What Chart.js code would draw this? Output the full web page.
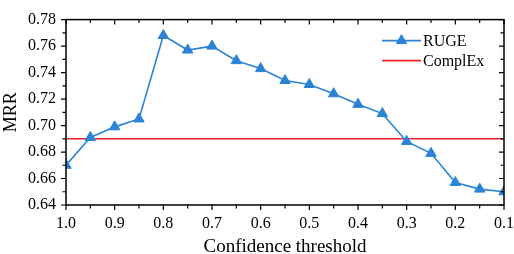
<!DOCTYPE html>
<html>
<head>
<meta charset="utf-8">
<script src="https://cdn.jsdelivr.net/npm/chart.js@4/dist/chart.umd.min.js"></script>
<style>
  html, body { margin: 0; padding: 0; background: #fff; }
  #wrap { width: 514px; height: 254px; }
</style>
</head>
<body>
<div id="wrap"><canvas id="chart"></canvas></div>
<script>
// confidence thresholds (x) and MRR values
const thresholds = [1.0, 0.95, 0.9, 0.85, 0.8, 0.75, 0.7, 0.65, 0.6, 0.55, 0.5, 0.45, 0.4, 0.35, 0.3, 0.25, 0.2, 0.15, 0.1];
const rugeMRR = [0.670, 0.691, 0.699, 0.705, 0.768, 0.757, 0.760, 0.749, 0.743, 0.734, 0.731, 0.724, 0.716, 0.709, 0.688, 0.679, 0.657, 0.652, 0.650];
const complexMRR = 0.690;
const xRange = [0.1, 1.0];
const yRange = [0.64, 0.78];
const xMajorStep = 0.1, xMinorStep = 0.05;
const yMajorStep = 0.02, yMinorStep = 0.01;

const BLUE = '#2b83d6';
const RED = '#f52222';
const FONT = "'Liberation Serif', 'Times New Roman', serif";

// frame with ticks: outward on left/bottom, inward on top/right
const frameTicks = {
  id: 'frameTicks',
  afterDatasetsDraw(chart) {
    const { ctx, chartArea: a, scales: { x, y } } = chart;
    ctx.save();
    ctx.strokeStyle = '#000';
    ctx.lineWidth = 1.5;
    ctx.strokeRect(a.left, a.top, a.right - a.left, a.bottom - a.top);
    ctx.lineWidth = 1.2;
    ctx.beginPath();
    const nx = Math.round((xRange[1] - xRange[0]) / xMinorStep);
    for (let i = 0; i <= nx; i++) {
      const v = xRange[0] + i * xMinorStep;
      const px = x.getPixelForValue(v);
      const len = i % 2 === 0 ? 5 : 3.5;
      ctx.moveTo(px, a.bottom); ctx.lineTo(px, a.bottom + len);
      ctx.moveTo(px, a.top); ctx.lineTo(px, a.top + len);
    }
    const ny = Math.round((yRange[1] - yRange[0]) / yMinorStep);
    for (let i = 0; i <= ny; i++) {
      const v = yRange[0] + i * yMinorStep;
      const py = y.getPixelForValue(v);
      const len = i % 2 === 0 ? 5 : 3.5;
      ctx.moveTo(a.left, py); ctx.lineTo(a.left - len, py);
      ctx.moveTo(a.right, py); ctx.lineTo(a.right - len, py);
    }
    ctx.stroke();
    ctx.restore();
  },
  afterDraw(chart) {
    // legend inside the plot, top right
    const { ctx, chartArea: a } = chart;
    const x0 = a.right - 122, x1 = x0 + 39;
    ctx.save();
    ctx.font = '16px ' + FONT;
    ctx.textBaseline = 'middle';
    chart.data.datasets.forEach((ds, i) => {
      const yy = a.top + 21 + i * 20;
      ctx.strokeStyle = ds.borderColor;
      ctx.lineWidth = ds.borderWidth;
      ctx.beginPath(); ctx.moveTo(x0, yy); ctx.lineTo(x1, yy); ctx.stroke();
      if (ds.pointRadius > 0) {
        ctx.fillStyle = ds.pointBackgroundColor;
        ctx.strokeStyle = ds.pointBorderColor;
        ctx.lineWidth = 1;
        Chart.helpers.drawPoint(ctx, {
          pointStyle: ds.pointStyle, radius: ds.pointRadius, borderWidth: 1
        }, (x0 + x1) / 2, yy);
      }
      ctx.fillStyle = '#000';
      ctx.fillText(ds.label, x1 + 2, yy + 1);
    });
    ctx.restore();
  }
};

new Chart(document.getElementById('chart'), {
  type: 'line',
  data: {
    datasets: [
      {
        label: 'RUGE',
        data: thresholds.map((t, i) => ({ x: t, y: rugeMRR[i] })),
        borderColor: BLUE,
        backgroundColor: BLUE,
        pointBackgroundColor: BLUE,
        pointBorderColor: BLUE,
        borderWidth: 1.6,
        pointStyle: 'triangle',
        pointRadius: 6,
        pointBorderWidth: 1,
        tension: 0,
        order: 1,
      },
      {
        label: 'ComplEx',
        data: [{ x: xRange[1], y: complexMRR }, { x: xRange[0], y: complexMRR }],
        borderColor: RED,
        backgroundColor: RED,
        borderWidth: 1.6,
        pointRadius: 0,
        order: 2,
      },
    ],
  },
  options: {
    responsive: true,
    maintainAspectRatio: false,
    animation: false,
    layout: { padding: { left: 0, right: 10, top: 7, bottom: 0 } },
    plugins: {
      legend: { display: false },
      tooltip: { enabled: false },
    },
    scales: {
      x: {
        type: 'linear',
        reverse: true,
        min: xRange[0],
        max: xRange[1],
        afterFit: (s) => { s.height = 49; },
        afterBuildTicks: (s) => {
          const t = [];
          for (let v = xRange[0]; v <= xRange[1] + 1e-9; v += xMajorStep) t.push({ value: +v.toFixed(2) });
          s.ticks = t;
        },
        grid: { display: false, drawTicks: false },
        border: { display: false },
        ticks: {
          padding: 9,
          color: '#000',
          font: { family: FONT, size: 16 },
          maxRotation: 0,
          callback: (v) => v.toFixed(1),
        },
        title: {
          display: true,
          text: 'Confidence threshold',
          color: '#000',
          font: { family: FONT, size: 19, lineHeight: 0.7 },
          padding: { top: 0, bottom: 0 },
        },
      },
      y: {
        min: yRange[0],
        max: yRange[1],
        afterFit: (s) => { s.width = 66; },
        afterBuildTicks: (s) => {
          const t = [];
          for (let v = yRange[0]; v <= yRange[1] + 1e-9; v += yMajorStep) t.push({ value: +v.toFixed(2) });
          s.ticks = t;
        },
        grid: { display: false, drawTicks: false },
        border: { display: false },
        ticks: {
          padding: 10,
          color: '#000',
          font: { family: FONT, size: 16 },
          callback: (v) => v.toFixed(2),
        },
        title: {
          display: true,
          text: 'MRR',
          color: '#000',
          font: { family: FONT, size: 18 },
          padding: { top: 0, bottom: 0 },
        },
      },
    },
  },
  plugins: [frameTicks],
});
</script>
</body>
</html>
